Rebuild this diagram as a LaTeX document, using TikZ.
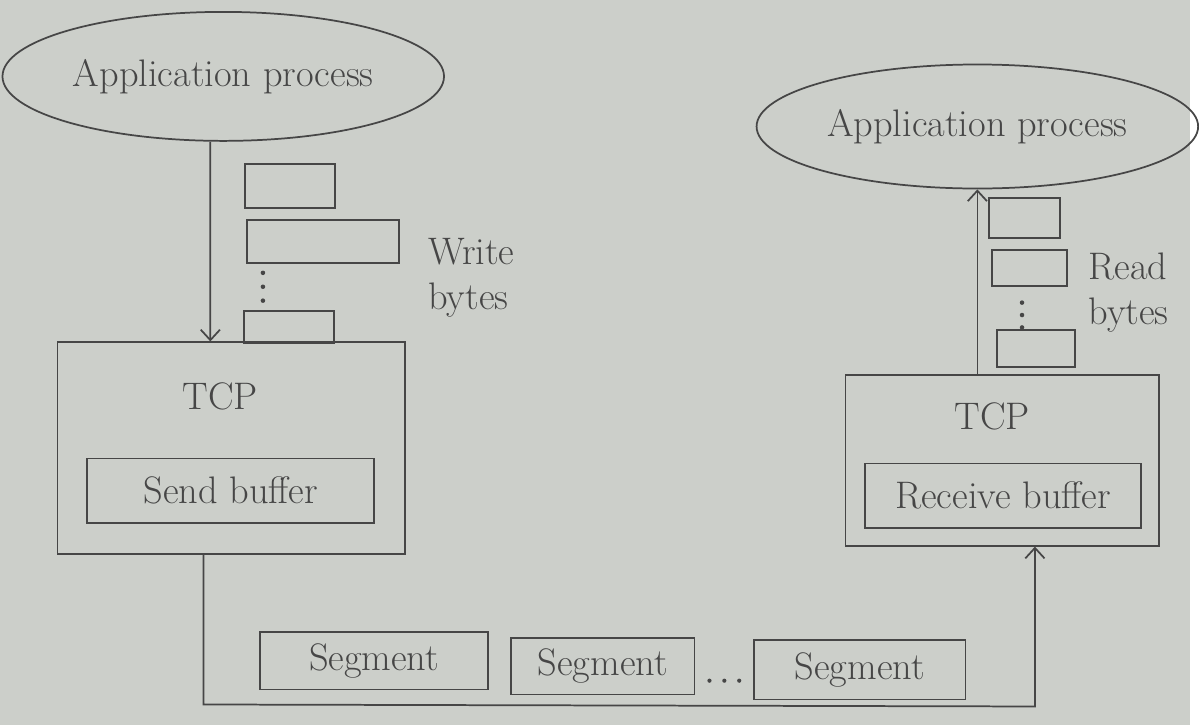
\documentclass[tikz,border=0pt]{standalone}
\usetikzlibrary{shapes.geometric,arrows.meta}
\definecolor{paper}{RGB}{204,207,202}
\definecolor{ink}{RGB}{70,70,70}
\begin{document}
\begin{tikzpicture}[every node/.style={text=ink, font=\fontsize{22}{26}\selectfont},
  proc/.style={ellipse,draw=ink,line width=1pt,minimum width=8.4cm,minimum height=2.6cm},
  layer/.style={rectangle,draw=ink,line width=1pt},
  chunk/.style={rectangle,draw=ink,line width=1.2pt,inner sep=0pt},
  wire/.style={draw=ink,line width=1pt,-{Straight Barb[length=6pt,width=11pt]}}]
\fill[paper] (0,0) rectangle (23.98,-14.62);
% processes
\node[proc] at (4.5,-1.54) (app1) {Application process};
\node[proc,minimum height=2.5cm] at (19.7,-2.55) (app2) {Application process};
% TCP layers
\node[layer,minimum width=7cm,minimum height=4.26cm] at (4.66,-9.03) (tcp1) {};
\node at (4.44,-8.0) (tcpa) {TCP};
\node[layer,minimum width=5.78cm,minimum height=1.3cm] at (4.65,-9.89) (sbuf) {Send buffer};
\node[layer,minimum width=6.32cm,minimum height=3.44cm] at (20.2,-9.28) (tcp2) {};
\node at (20.0,-8.4) (tcpb) {TCP};
\node[layer,minimum width=5.56cm,minimum height=1.3cm] at (20.22,-9.99) (rbuf) {Receive buffer};
% written bytes
\node[chunk,minimum width=1.82cm,minimum height=0.9cm] at (5.85,-3.75) (w1) {};
\node[chunk,minimum width=3.06cm,minimum height=0.86cm] at (6.51,-4.87) (w2) {};
\node[chunk,minimum width=1.82cm,minimum height=0.66cm] at (5.83,-6.59) (w3) {};
\node[align=left] at (9.5,-5.6) (wl) {Write\\bytes};
% read bytes
\node[chunk,minimum width=1.42cm,minimum height=0.8cm] at (20.65,-4.4) (r1) {};
\node[chunk,minimum width=1.5cm,minimum height=0.72cm] at (20.75,-5.4) (r2) {};
\node[chunk,minimum width=1.56cm,minimum height=0.74cm] at (20.88,-7.03) (r3) {};
\node[align=left] at (22.75,-5.9) (rl) {Read\\bytes};
% segments
\node[layer,minimum width=4.6cm,minimum height=1.16cm] at (7.54,-13.32) (s1) {Segment};
\node[layer,minimum width=3.7cm,minimum height=1.14cm] at (12.15,-13.43) (s2) {Segment};
\node[layer,minimum width=4.26cm,minimum height=1.2cm] at (17.33,-13.5) (s3) {Segment};
% dots
\foreach \y in {-5.5,-5.78,-6.06} \fill[ink] (5.3,\y) circle (1.3pt);
\foreach \y in {-6.1,-6.35,-6.6} \fill[ink] (20.6,\y) circle (1.3pt);
\foreach \x in {14.3,14.6,14.9} \fill[ink] (\x,-13.72) circle (1.2pt);
\coordinate (lo) at (4.1,-14.2);
\coordinate (ro) at (20.86,-14.24);
\draw[wire] ([xshift=-0.26cm]app1.south) -- ([xshift=-0.42cm]tcp1.north);
\draw[wire] (app2.south |- tcp2.north) -- (app2.south);
\draw[wire] (lo |- tcp1.south) -- (lo) -- (ro) -- (ro |- tcp2.south);
\end{tikzpicture}
\end{document}
